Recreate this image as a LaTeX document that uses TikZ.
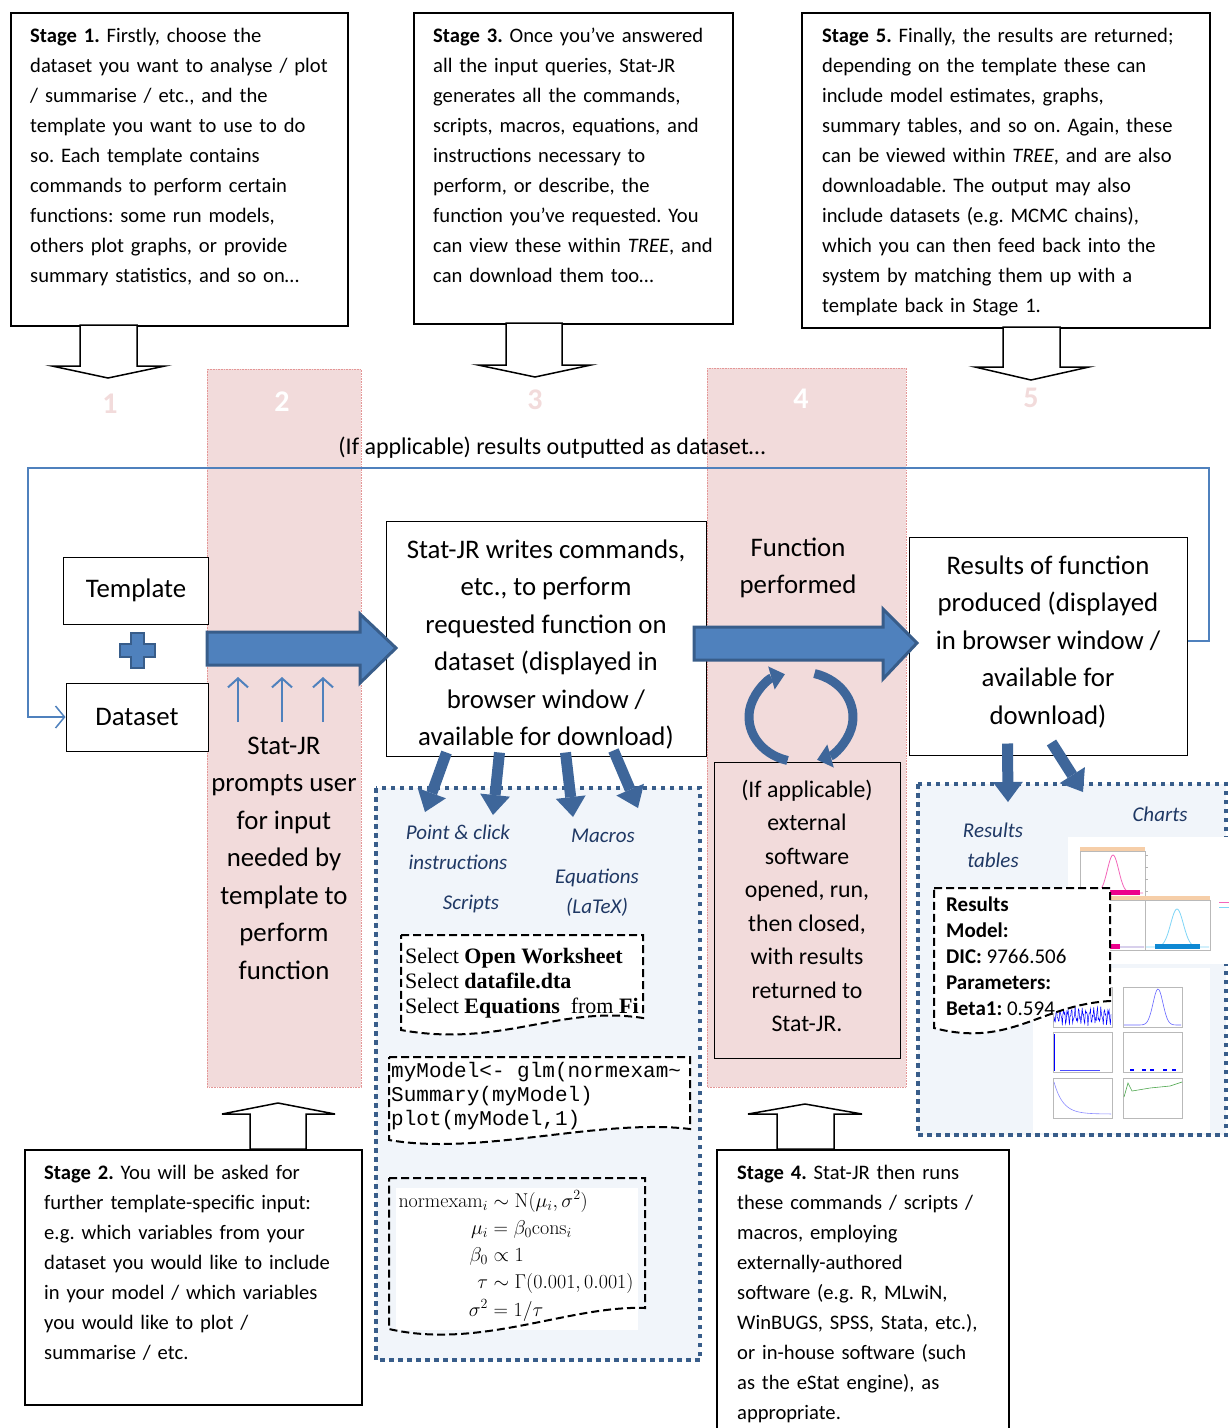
\RequirePackage{fix-cm}
\documentclass[tikz,border=0pt]{standalone}
\usepackage{amsmath}
\usepackage[no-math]{fontspec}
\setmainfont{Carlito}
\newfontfamily\docserif{Liberation Serif}
\newfontfamily\docmono{Liberation Mono}
\usetikzlibrary{arrows.meta,calc}
\frenchspacing

\definecolor{pinkcol}{RGB}{242,219,219}
\definecolor{pinkedge}{RGB}{228,150,150}
\definecolor{arrowfill}{RGB}{79,129,189}
\definecolor{arrowedge}{RGB}{56,93,138}
\definecolor{fatblue}{RGB}{62,102,154}
\definecolor{labelblue}{RGB}{31,56,100}
\definecolor{regionfill}{RGB}{241,245,250}
\definecolor{headerorange}{RGB}{246,206,168}

\tikzset{
  stagebox/.style={draw, line width=1.5pt, anchor=north west, inner sep=0pt},
  stagetext/.style={anchor=north west, inner sep=0pt, text width=#1, align=left,
    font=\fontsize{20.6}{30}\selectfont},
  hollow/.style={draw, line width=1.5pt, fill=white},
  column/.style={fill=pinkcol, draw=pinkedge, densely dotted, line width=.6pt},
  stepnum/.style={font=\fontsize{30}{30}\selectfont\bfseries},
  mainbox/.style={draw, line width=1pt, fill=white, align=center, inner sep=0pt,
    font=\fontsize{26.8}{37.5}\selectfont},
  bigtext/.style={align=center, inner sep=0pt, font=\fontsize{26.8}{37.5}\selectfont},
  blockarrow/.style={fill=arrowfill, draw=arrowedge, line width=3pt},
  thinup/.style={draw=arrowfill, line width=2pt, -{Straight Barb[length=9pt,width=20pt]}},
  feedback/.style={draw=arrowfill, line width=1.5pt, -{Straight Barb[length=9pt,width=22pt]}},
  fatarrow/.style={draw=fatblue, line width=11pt, -{Triangle[length=20pt,width=30pt,line width=0pt]}},
  circarrow/.style={draw=fatblue, line width=9pt, -{Triangle[length=14pt,width=24pt,line width=0pt]}},
  region/.style={draw=arrowedge, fill=regionfill, line width=4.5pt, dash pattern=on 4.5pt off 4.5pt},
  kind/.style={text=labelblue, align=center, inner sep=0pt, font=\fontsize{21}{30}\selectfont\itshape},
  docshape/.style={draw, fill=white, line width=2pt, dash pattern=on 8pt off 4pt},
  panel/.style={draw=gray!55, line width=.4pt, fill=white},
}

\begin{document}
\begin{tikzpicture}[x=1pt, y=-1pt]
\useasboundingbox (0,0) rectangle (1229,1428);

% pink columns for stages 2 and 4
\draw[column] (207,369) rectangle (361,1087);
\draw[column] (707,368) rectangle (906,1087);

% stage boxes
\node[stagebox, minimum width=337, minimum height=313] (s1) at (10,12) {};
\node[stagetext=315] (s1text) at (30,28) {\textbf{Stage 1.} Firstly, choose the\\
  dataset you want to analyse / plot\\ / summarise / etc., and the\\
  template you want to use to do\\ so. Each template contains\\
  commands to perform certain\\ functions: some run models,\\
  others plot graphs, or provide\\ summary statistics, and so on…};
\node[stagebox, minimum width=319, minimum height=311] (s3) at (413,12) {};
\node[stagetext=300] (s3text) at (433,28) {\textbf{Stage 3.} Once you’ve answered\\
  all the input queries, Stat-JR\\ generates all the commands,\\
  scripts, macros, equations, and\\ instructions necessary to\\
  perform, or describe, the\\ function you’ve requested. You\\
  can view these within \textit{TREE}, and\\ can download them too…};
\node[stagebox, minimum width=408, minimum height=315] (s5) at (801,12) {};
\node[stagetext=385] (s5text) at (822,28) {\textbf{Stage 5.} Finally, the results are returned;\\
  depending on the template these can\\ include model estimates, graphs,\\
  summary tables, and so on. Again, these\\ can be viewed within \textit{TREE}, and are also\\
  downloadable. The output may also\\ include datasets (e.g. MCMC chains),\\
  which you can then feed back into the\\ system by matching them up with a\\
  template back in Stage 1.};
\node[stagebox, minimum width=337, minimum height=255] (s2) at (24,1149) {};
\node[stagetext=315] (s2text) at (44,1165) {\textbf{Stage 2.} You will be asked for\\
  further template-specific input:\\ e.g. which variables from your\\
  dataset you would like to include\\ in your model / which variables\\
  you would like to plot /\\ summarise / etc.};
\node[stagebox, minimum width=292, minimum height=300] (s4) at (716,1149) {};
\node[stagetext=280] (s4text) at (737,1165) {\textbf{Stage 4.} Stat-JR then runs\\
  these commands / scripts /\\ macros, employing\\ externally-authored\\
  software (e.g. R, MLwiN,\\ WinBUGS, SPSS, Stata, etc.),\\
  or in-house software (such\\ as the eStat engine), as\\ appropriate.};

% hollow arrows from the stage boxes
\draw[hollow] (80,325) -- (137,325) -- (137,366) -- (165,366) -- (108,378) -- (52,366) -- (80,366) -- cycle;
\draw[hollow] (506,323) -- (562,323) -- (562,365) -- (591,365) -- (535,377) -- (478,365) -- (506,365) -- cycle;
\draw[hollow] (1003,327) -- (1060,327) -- (1060,367) -- (1089,367) -- (1031,380) -- (975,367) -- (1003,367) -- cycle;
\draw[hollow] (250,1149) -- (306,1149) -- (306,1114) -- (335,1114) -- (278,1103) -- (222,1114) -- (250,1114) -- cycle;
\draw[hollow] (777,1149) -- (834,1149) -- (834,1114) -- (862,1114) -- (805,1104) -- (748,1114) -- (777,1114) -- cycle;

% step numbers
\node[stepnum, text=pinkcol] (n1) at (110,404) {1};
\node[stepnum, text=white] (n2) at (282,402) {2};
\node[stepnum, text=pinkcol] (n3) at (535,400) {3};
\node[stepnum, text=white] (n4) at (801,399) {4};
\node[stepnum, text=pinkcol] (n5) at (1031,398) {5};

% output regions
\draw[region] (376,788) rectangle (700,1360);
\draw[region] (918,784) rectangle (1226,1135);

% main nodes
\node[mainbox, minimum width=145, minimum height=67] (tmpl) at (136,590.5) {Template};
\node[mainbox, minimum width=142, minimum height=68] (data) at (137,717) {Dataset};
\node[mainbox, minimum width=320, minimum height=235] (cmd) at (546,638.5) {};
\node[bigtext] (cmdtext) at (546,644.5) {Stat-JR writes commands,\\
  etc., to perform\\ requested function on\\ dataset (displayed in\\
  browser window /\\ available for download)};
\node[mainbox, minimum width=278, minimum height=218] (res) at (1048,646) {};
\node[bigtext] (restext) at (1048,642) {Results of function\\
  produced (displayed\\ in browser window /\\ available for\\ download)};
\node[mainbox, fill=pinkcol, minimum width=186, minimum height=296] (ext) at (807,910) {};
\node[bigtext, font=\fontsize{23.8}{33.5}\selectfont] (exttext) at (807,906) {(If applicable)\\ external\\
  software\\ opened, run,\\ then closed,\\ with results\\ returned to\\ Stat-JR.};
\node[bigtext] (prompt) at (284,858) {Stat-JR\\ prompts user\\ for input\\ needed by\\
  template to\\ perform\\ function};
\node[bigtext] (perf) at (798,568) {Function\\ performed};

% feedback loop
\node[font=\fontsize{24}{24}\selectfont] (loop) at (552,448) {(If applicable) results outputted as dataset…};
\draw[feedback] ([yshift=5pt]res.east) -- (1209,641) |- (28,468) |- (data.west);

% plus sign
\draw[blockarrow, line width=2.5pt] (131,633) -- (144,633) -- (144,644) -- (155,644) -- (155,657)
  -- (144,657) -- (144,668) -- (131,668) -- (131,657) -- (120,657) -- (120,644) -- (131,644) -- cycle;

% big block arrows
\draw[blockarrow] (207,632) -- (360,632) -- (360,614) -- (396,648) -- (360,683) -- (360,665) -- (207,665) -- cycle;
\draw[blockarrow] (694,627) -- (883,627) -- (883,609) -- (917,643) -- (883,679) -- (883,660) -- (694,660) -- cycle;

% user input arrows
\coordinate (in1) at (238,722);
\coordinate (in2) at (282,722);
\coordinate (in3) at (323,722);
\foreach \c in {in1,in2,in3}
  \draw[thinup] (\c) -- ++(0,-45);

% circular arrows
\draw[circarrow] (801,717) ++(105:52 and 45) arc[start angle=105, end angle=252, x radius=52, y radius=45];
\draw[circarrow] (801,717) ++(285:52 and 45) arc[start angle=285, end angle=432, x radius=52, y radius=45];

% arrows into the output regions
\coordinate (o1) at (425,812);
\coordinate (o2) at (493,815);
\coordinate (o3) at (573,817);
\coordinate (o4) at (638,808);
\draw[fatarrow] ($(cmd.south west)+(61,-4)$) -- (o1);
\draw[fatarrow] ($(cmd.south west)+(114,-4)$) -- (o2);
\draw[fatarrow] ($(cmd.south west)+(180,-4)$) -- (o3);
\draw[fatarrow] ($(cmd.south west)+(228,-6)$) -- (o4);
\coordinate (o5) at (1008,802);
\coordinate (o6) at (1083,792);
\draw[fatarrow] ($(res.south west)+(99,-12)$) -- (o5);
\draw[fatarrow] ($(res.south west)+(143,-13)$) -- (o6);

% kinds of output
\node[kind] (pclick) at (458,847) {Point \& click\\ instructions};
\node[kind] (macros) at (603,836) {Macros};
\node[kind] (eqs) at (597,893) {Equations\\ (LaTeX)};
\node[kind] (scripts) at (471,904) {Scripts};
\node[kind] (rtables) at (993,845) {Results\\ tables};
\node[kind] (charts) at (1160,814) {Charts};

% point and click document
\draw[docshape] (401,935) -- (643,935) -- (643,1018) .. controls (560,1005) and (500,1048) .. (401,1030) -- cycle;
\node[anchor=west, align=left, inner sep=0pt, font=\docserif\fontsize{22}{25}\selectfont] (pctext) at (405,983)
  {Select \textbf{Open Worksheet}\\ Select \textbf{datafile.dta}\\ Select \textbf{Equations}\ \ from \textbf{Fi}};

% script document
\draw[docshape] (389,1057) -- (690,1057) -- (690,1129) .. controls (600,1118) and (480,1156) .. (389,1140) -- cycle;
\node[anchor=west, align=left, inner sep=0pt, font=\docmono\fontsize{21}{24}\selectfont] (code) at (391,1096)
  {myModel<- glm(normexam\char`\~\\ Summary(myModel)\\ plot(myModel,1)};

% equations document
\fill[white] (396,1188) rectangle (638,1330);
\draw[docshape, fill=none] (389,1178) -- (645,1178) -- (645,1308) .. controls (570,1305) and (480,1350) .. (389,1329) -- cycle;
\node[inner sep=0pt, font=\fontsize{20}{24}\selectfont] (eqn) at (516,1257) {$\jot=3pt
  \begin{aligned}
  \mathrm{normexam}_i &\sim \mathrm{N}(\mu_i,\sigma^2)\\
  \mu_i &= \beta_0\mathrm{cons}_i\\
  \beta_0 &\propto 1\\
  \tau &\sim \Gamma(0.001,0.001)\\
  \sigma^2 &= 1/\tau
  \end{aligned}$};

% chart snapshots
\fill[white] (1068,837) rectangle (1229,964);
\draw[panel] (1080,851) rectangle (1145,896);
\fill[headerorange] (1080,847) rectangle (1145,851);
\draw[magenta!60, line width=.8pt] plot[domain=1082:1143, samples=60] (\x,{893-38*exp(-((\x-1113)/8)^2)});
\fill[magenta] (1092,890) rectangle (1140,895);
\foreach \t in {855,867,879,891}
  \draw[gray!60, line width=.4pt] (1145,\t) -- (1148,\t);
\draw[panel] (1080,900) rectangle (1145,950);
\fill[headerorange] (1080,896) rectangle (1145,900);
\draw[magenta!60, line width=.8pt] plot[domain=1081:1144, samples=60] (\x,{947-40*exp(-((\x-1088)/9)^2)});
\draw[cyan!40, line width=.8pt] plot[domain=1081:1144, samples=60] (\x,{947-34*exp(-((\x-1096)/9)^2)});
\fill[magenta] (1082,944) rectangle (1120,949);
\draw[panel] (1145,900) rectangle (1210,950);
\fill[headerorange] (1145,896) rectangle (1210,900);
\draw[cyan!50, line width=.8pt] plot[domain=1146:1209, samples=60] (\x,{947-38*exp(-((\x-1177)/9)^2)});
\fill[cyan!70!blue] (1155,944) rectangle (1200,949);
\draw[magenta!60, line width=1pt] (1219,902) -- (1229,902);
\draw[cyan!50, line width=1pt] (1219,907) -- (1229,907);

\fill[white] (1033,968) rectangle (1210,1133);
\foreach \px in {1053,1123}
  \foreach \py in {987,1032,1078}
    \draw[panel] (\px,\py) rectangle ++(59,40);
\draw[blue, line width=.5pt] plot[domain=1054:1111, samples=90] (\x,{1016+6*sin(97*(\x-1050))+4*sin(211*(\x-1050))});
\draw[blue!60, line width=.6pt] plot[domain=1124:1181, samples=50] (\x,{1025-36*exp(-((\x-1158)/7)^2)});
\draw[blue, line width=1pt] (1054,1034) -- (1054,1071);
\draw[blue!70, line width=.6pt] (1060,1070) -- (1100,1070);
\foreach \d in {1130,1142,1150,1163,1172}
  \draw[blue, line width=1.2pt] (\d,1070) -- ++(4,0);
\draw[blue!45, line width=.6pt] plot[domain=1054:1111, samples=50] (\x,{1114-32*exp(-(\x-1054)/9)});
\draw[green!50!black!70, line width=.6pt] (1124,1097) -- (1128,1083) -- (1132,1091) -- (1150,1088) -- (1170,1086) -- (1182,1082);

% results table document
\draw[docshape] (934,888) -- (1110,888) -- (1110,1001) .. controls (1040,1005) and (1010,1048) .. (934,1028) -- cycle;
\node[anchor=west, align=left, inner sep=0pt, font=\fontsize{21}{26}\selectfont] (rtext) at (946,956)
  {\textbf{Results}\\ \textbf{Model:}\\ \textbf{DIC:} 9766.506\\ \textbf{Parameters:}\\ \textbf{Beta1:} 0.594};
\end{tikzpicture}
\end{document}
